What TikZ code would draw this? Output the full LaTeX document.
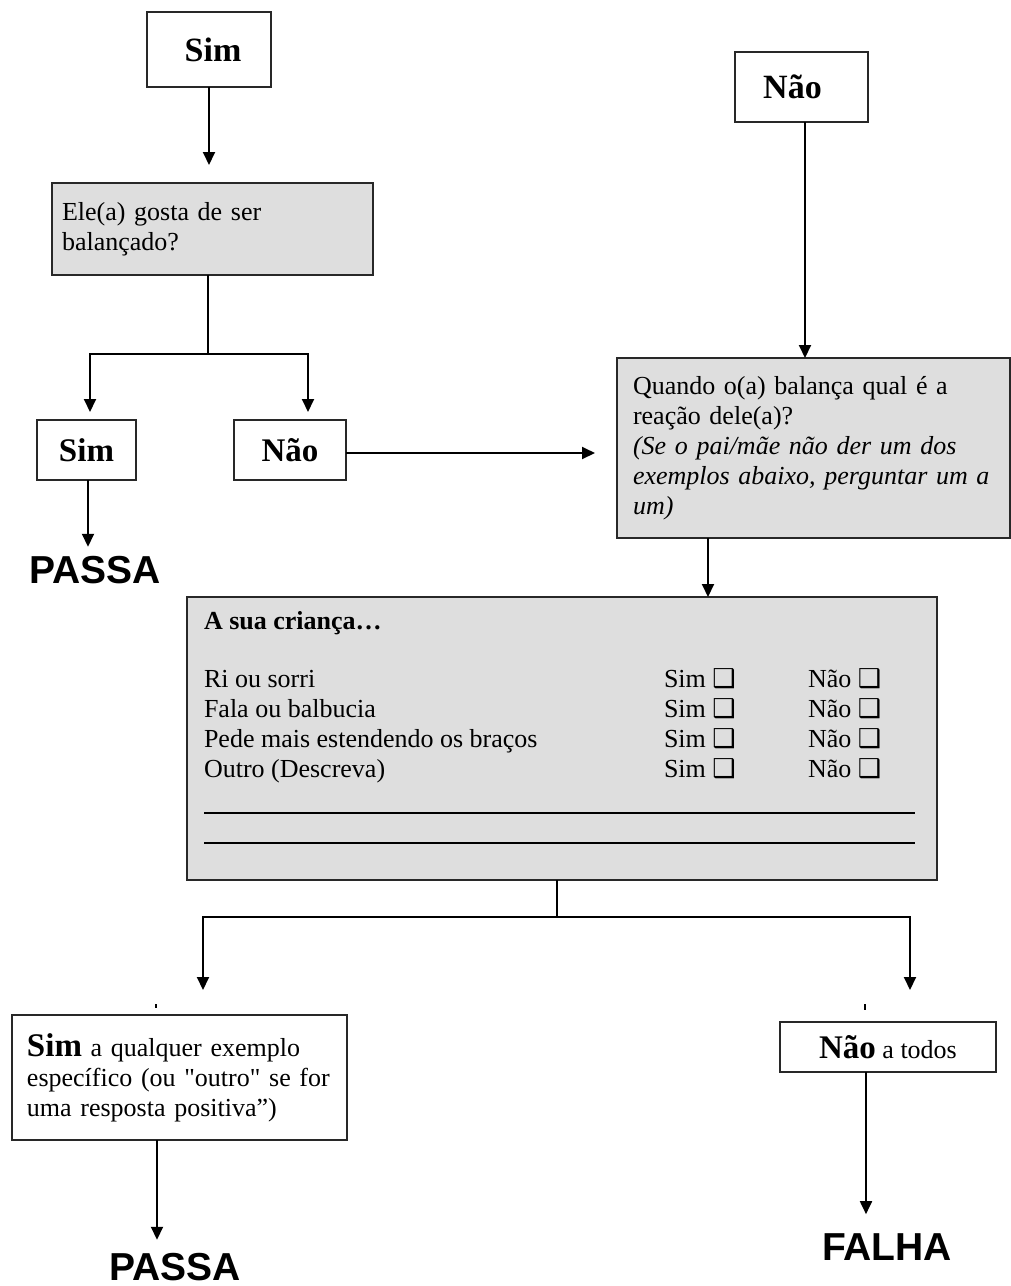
\documentclass[tikz,border=0pt]{standalone}
\usepackage{fontspec}
\setmainfont{Liberation Serif}
\newfontfamily\headsans{Liberation Sans}
\newfontfamily\symfont{DejaVu Sans}
\newfontfamily\rawserif{Liberation Serif}[Ligatures=TeXOff]
\usetikzlibrary{arrows.meta}
\definecolor{boxgray}{RGB}{222,222,222}
\definecolor{edgegray}{RGB}{40,40,40}
\newcommand{\tickbox}{{\symfont\fontsize{26}{26}\selectfont ❑}}
\newcommand{\plainquote}{{\rawserif"}}

\begin{document}
\begin{tikzpicture}[x=1pt,y=-1pt,
  every node/.style={inner sep=0pt, outer sep=0pt},
  body/.style={font=\fontsize{26}{30}\selectfont},
  framebox/.style={draw=edgegray, line width=2.2pt, anchor=north west, body},
  graybox/.style={framebox, fill=boxgray},
  wire/.style={line width=1.9pt, black},
  arr/.style={wire, -{Triangle[width=12pt,length=13pt]}},
  verdict/.style={font=\headsans\bfseries\fontsize{39}{39}\selectfont, anchor=base},
  bigword/.style={font=\bfseries\fontsize{34}{34}\selectfont},
  cell/.style={body, anchor=base west}
]
\useasboundingbox (0,0) rectangle (1011,1286);

% first question: "Sim" branch
\node[framebox, minimum width=124pt, minimum height=75pt, bigword] (sim1) at (147,12) {\kern8pt Sim};
\node[graybox, minimum width=321pt, minimum height=92pt, inner xsep=10pt, text width=301pt, align=left] (q1) at (52,183)
  {Ele(a) gosta de ser\\balançado?};
\node[framebox, minimum width=99pt, minimum height=60pt, font=\bfseries\fontsize{33}{33}\selectfont] (sim2) at (37,420) {Sim};
\node[framebox, minimum width=112pt, minimum height=60pt, font=\bfseries\fontsize{33}{33}\selectfont] (nao2) at (234,420) {Não};
\node[verdict] (passa1) at (95,583) {PASSA};

% first question: "Não" branch
\node[framebox, minimum width=133pt, minimum height=70pt, bigword] (nao1) at (735,52) {Não\kern18pt};
\node[graybox, minimum width=393pt, minimum height=180pt, inner xsep=16pt, text width=361pt, align=left] (q2) at (617,358)
  {Quando o(a) balança qual é a\\reação dele(a)?\\\textit{(Se o pai/mãe não der um dos}\\\textit{exemplos abaixo, perguntar um a}\\\textit{um)}};

% checklist
\node[graybox, minimum width=750pt, minimum height=283pt] (big) at (187,597) {};
\node[cell, font=\bfseries\fontsize{26}{30}\selectfont] (title) at (204,629) {A sua criança…};
\node[cell] (r1) at (204,687) {Ri ou sorri};
\node[cell] (r2) at (204,717) {Fala ou balbucia};
\node[cell] (r3) at (204,747) {Pede mais estendendo os braços};
\node[cell] (r4) at (204,777) {Outro (Descreva)};
\foreach \y/\n in {687/1,717/2,747/3,777/4}{
  \node[cell] (s\n) at (664,\y) {Sim \tickbox};
  \node[cell] (n\n) at (808,\y) {Não \tickbox};
}
\draw[line width=1.6pt] (204,813) -- (915,813);
\draw[line width=1.6pt] (204,843) -- (915,843);

% outcomes
\node[framebox, minimum width=335pt, minimum height=125pt, inner xsep=15pt, text width=305pt, align=left] (res1) at (12,1015)
  {{\bfseries\fontsize{33}{30}\selectfont Sim} a qualquer exemplo\\específico (ou \plainquote outro\plainquote{} se for\\uma resposta positiva”)};
\node[framebox, minimum width=216pt, minimum height=50pt] (res2) at (780,1022)
  {{\bfseries\fontsize{33}{30}\selectfont Não} a todos};
\node[verdict] (passa2) at (175,1280) {PASSA};
\node[verdict] (falha) at (887,1260) {FALHA};

% connectors
\draw[arr, shorten >=18pt] (sim1.south) -- (sim1.south |- q1.north);
\coordinate (split1) at (208,354);
\draw[wire] (split1 |- q1.south) -- (split1);
\draw[arr, shorten >=8pt] (split1) -| ([xshift=3.5pt]sim2.north);
\draw[arr, shorten >=8pt] (split1) -| ([xshift=18pt]nao2.north);
\draw[arr, shorten >=9pt] ([xshift=1.5pt]sim2.south) -- ([xshift=1.5pt]sim2.south |- passa1.north);
\draw[arr, shorten >=22pt] ([yshift=-3pt]nao2.east) -- ([yshift=-3pt]nao2.east -| q2.west);
\draw[arr] ([xshift=3.5pt]nao1.south) -- ([xshift=3.5pt]nao1.south |- q2.north);
\draw[arr] ([xshift=-105.5pt]q2.south) -- ([xshift=-105.5pt]q2.south |- big.north);
\coordinate (split2) at (557,917);
\draw[wire] (split2 |- big.south) -- (split2);
\draw[arr, shorten >=25pt] (split2) -| ([xshift=23.5pt]res1.north);
\draw[arr, shorten >=32pt] (split2) -| ([xshift=22pt]res2.north);
\draw[line width=1.4pt] (156,1004) -- (156,1008);
\draw[line width=1.4pt] (865,1004) -- (865,1010);
\draw[arr, shorten >=13pt] ([xshift=-22.5pt]res1.south) -- ([xshift=-22.5pt]res1.south |- passa2.north);
\draw[arr, shorten >=19pt] ([xshift=-22pt]res2.south) -- ([xshift=-22pt]res2.south |- falha.north);
\end{tikzpicture}
\end{document}
